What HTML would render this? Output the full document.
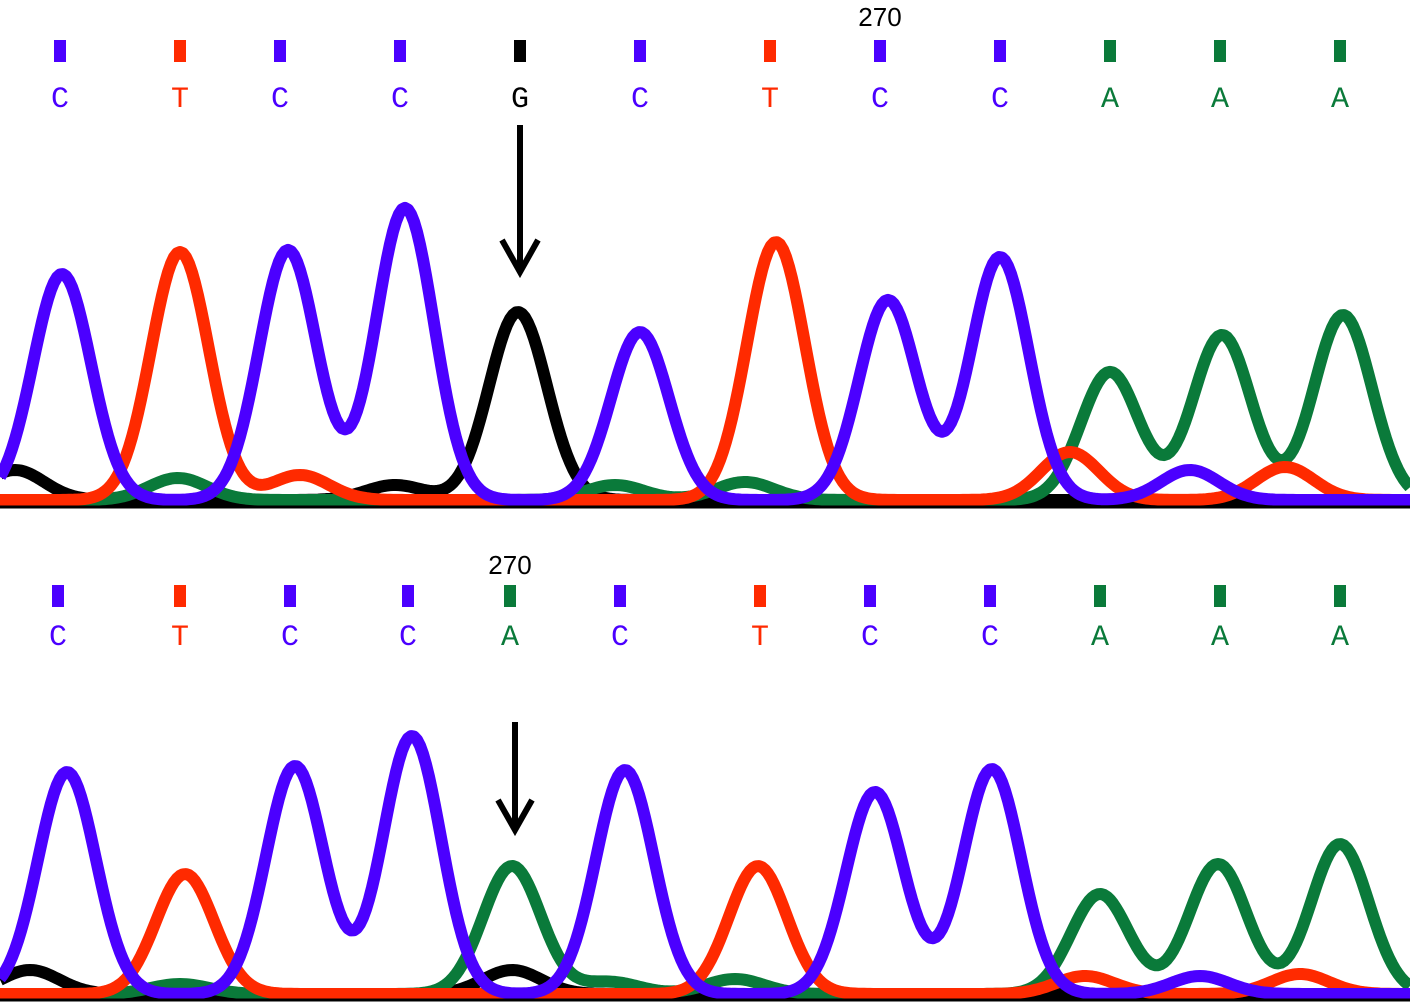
<!DOCTYPE html>
<html><head><meta charset="utf-8"><style>
html,body{margin:0;padding:0;background:#fff;}
svg{display:block}
</style></head><body>
<svg id="s" width="1410" height="1007" xmlns="http://www.w3.org/2000/svg">
<rect width="1410" height="1007" fill="#fff"/>
<g font-family="Liberation Mono, monospace" font-size="30" text-anchor="middle" id="txt"></g>
<text x="880" y="26" font-family="Liberation Sans, sans-serif" font-size="26" text-anchor="middle">270</text>
<text x="510" y="574" font-family="Liberation Sans, sans-serif" font-size="26" text-anchor="middle">270</text>
<g id="tr" fill="none" stroke-width="12" stroke-linejoin="round"></g>
<line x1="0" y1="507" x2="1410" y2="507" stroke="#000" stroke-width="3"/>
<line x1="0" y1="1000" x2="1410" y2="1000" stroke="#000" stroke-width="3"/>
<g stroke="#000" stroke-width="6" fill="none">
<line x1="520" y1="125" x2="520" y2="272"/><polyline points="502,240 520,272 538,240"/>
<line x1="515" y1="722" x2="515" y2="830"/><polyline points="498,800 515,830 532,800"/>
</g>
</svg>
<script>
(function(){
var COL={C:"#4b00ff",T:"#ff2a00",G:"#000",A:"#0a7a3a"};
var topL=[["C",60],["T",180],["C",280],["C",400],["G",520],["C",640],["T",770],["C",880],["C",1000],["A",1110],["A",1220],["A",1340]];
var botL=[["C",58],["T",180],["C",290],["C",408],["A",510],["C",620],["T",760],["C",870],["C",990],["A",1100],["A",1220],["A",1340]];
var t=document.getElementById("txt"),h="";
function lab(a,ys,yl){a.forEach(function(p){var c=COL[p[0]];h+='<rect x="'+(p[1]-6)+'" y="'+ys+'" width="12" height="22" fill="'+c+'"/><text x="'+p[1]+'" y="'+yl+'" fill="'+c+'">'+p[0]+'</text>';});}
lab(topL,40,107);lab(botL,585,645);t.innerHTML=h;
var sg=29;
var TP={
G:[[518,188],[15,30],[395,15]],
A:[[1110,128],[1222,165],[1343,185],[178,22],[615,15],[745,18]],
T:[[180,248],[776,258],[1070,48],[1285,33],[300,25]],
C:[[62,226],[288,250],[405,292],[640,168],[888,200],[1000,243],[1190,30]]};
var BT={
G:[[30,24],[512,24]],
A:[[512,128],[1100,100],[1218,130],[1340,150],[180,10],[610,12],[735,15]],
T:[[185,120],[758,128],[1085,18],[1300,20]],
C:[[67,222],[295,228],[412,258],[625,224],[875,202],[992,225],[1200,18]]};
var g=document.getElementById("tr"),o="";
function tr(set,base){for(var k in set){var d="";for(var x=0;x<=1410;x+=3){var y=base;set[k].forEach(function(p){var dx=x-p[0];y-=p[1]*Math.exp(-dx*dx/(2*sg*sg));});d+=(x?"L":"M")+x+","+y.toFixed(1);}o+='<path d="'+d+'" stroke="'+COL[k]+'"/>';}}
tr(TP,500);tr(BT,994);g.innerHTML=o;
})();
</script>
</body></html>
